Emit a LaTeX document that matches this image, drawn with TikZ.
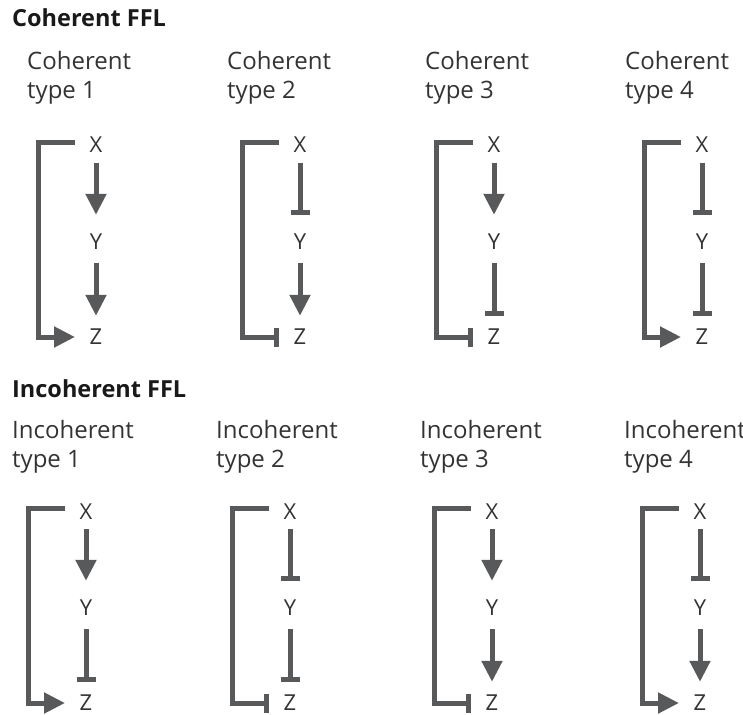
\documentclass[tikz,border=0pt]{standalone}
\usepackage{fontspec}
\setmainfont{Open Sans}
\usetikzlibrary{arrows.meta,calc}
\definecolor{arr}{HTML}{58595B}
\definecolor{txt}{HTML}{333333}
\newcommand\fflmotif[6]{%
  \node[lbl] (#1X) at (#2,153+#3) {X};
  \node[lbl] (#1Y) at (#2,249+#3) {Y};
  \node[lbl] (#1Z) at (#2,344+#3) {Z};
  \draw[#4, shorten <=10pt, shorten >=18.3pt] (#1X.south) -- (#1Y.north);
  \draw[#5, shorten <=14pt, shorten >=12.3pt] (#1Y.south) -- (#1Z.north);
  \draw[#6] ($(#1X.base)+(-21,-10.5)$) -- ++(-37,0) |- ($(#1Z.base)+(-21,-7)$);
}
\begin{document}
\begin{tikzpicture}[x=1pt,y=-1pt,
  conn/.style={draw=arr,line width=5pt},
  act/.style={conn,-{Triangle[width=20pt,length=21pt]}},
  rep/.style={conn,-{Bar[width=19pt]}},
  lbl/.style={inner sep=0pt,anchor=base,text=txt,font=\fontsize{22}{26}\selectfont},
  sub/.style={inner sep=0pt,anchor=base west,align=left,text=txt,font=\fontsize{24}{29}\selectfont},
  ttl/.style={inner sep=0pt,anchor=base west,text=black!90,font=\fontsize{23.5}{28}\selectfont\bfseries}]
\path[use as bounding box] (0,0) rectangle (743,714);
\node[ttl] (t1) at (12,27) {Coherent FFL};
\node[ttl] (t2) at (12,397) {Incoherent FFL};
\node[sub] (s1) at (27,99) {Coherent\\type 1};
\node[sub] (s2) at (227,99) {Coherent\\type 2};
\node[sub] (s3) at (425,99) {Coherent\\type 3};
\node[sub] (s4) at (625,99) {Coherent\\type 4};
\node[sub] (s5) at (12,467) {Incoherent\\type 1};
\node[sub] (s6) at (216,467) {Incoherent\\type 2};
\node[sub] (s7) at (420,467) {Incoherent\\type 3};
\node[sub] (s8) at (624,467) {Incoherent\\type 4};
\fflmotif{ca}{96}{0}{act}{act}{act}
\fflmotif{cb}{300}{0}{rep}{act}{rep}
\fflmotif{cc}{494}{0}{act}{rep}{rep}
\fflmotif{cd}{702}{0}{rep}{rep}{act}
\fflmotif{ia}{86}{366}{act}{rep}{act}
\fflmotif{ib}{290}{366}{rep}{rep}{rep}
\fflmotif{ic}{492}{366}{act}{act}{rep}
\fflmotif{id}{700}{366}{rep}{act}{act}
\end{tikzpicture}
\end{document}
